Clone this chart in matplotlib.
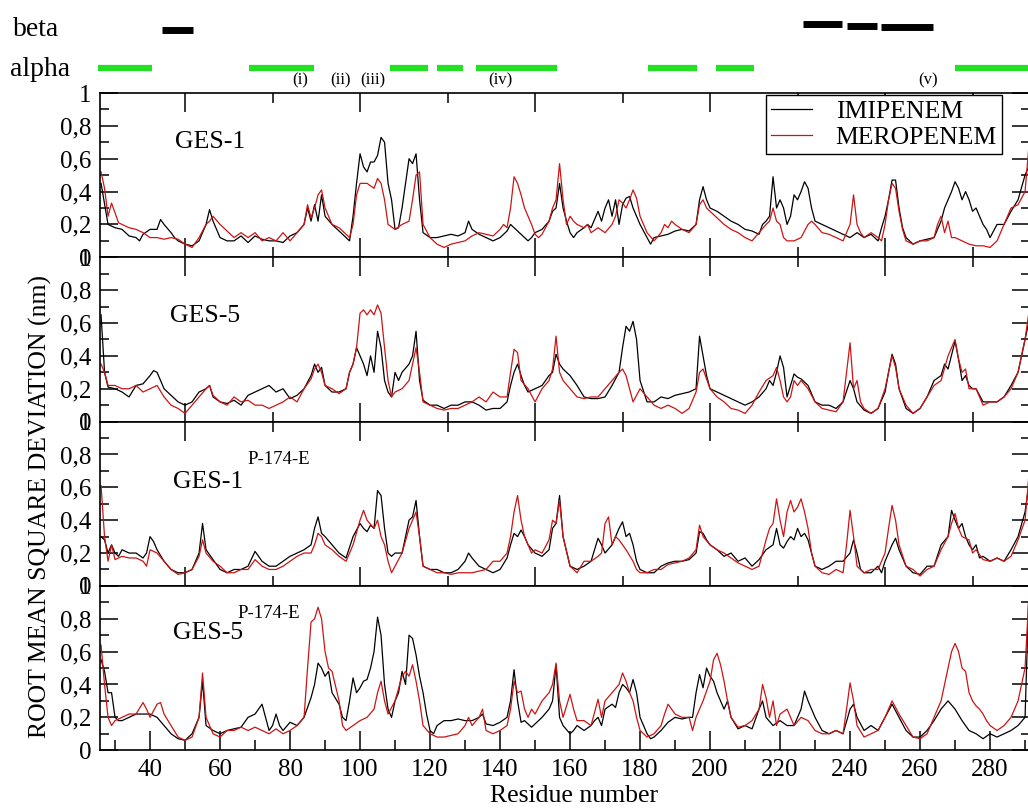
import numpy as np
import matplotlib
matplotlib.use("Agg")
import matplotlib.pyplot as plt
import matplotlib.transforms as mtransforms
from matplotlib.ticker import MultipleLocator, FuncFormatter

plt.rcParams['font.family'] = ['Liberation Serif', 'DejaVu Serif']

# ---- data: (residue, RMSF nm) ----
g1_imi = [(26, .45), (28, .20), (30, .18), (32, .17), (34, .13), (36, .12), (37, .10), (38, .14), (40, .17), (42, .17), (43, .23), (44, .20), (46, .15), (47, .12), (48, .10), (50, .08), (52, .07), (54, .10), (56, .20), (57, .29), (58, .22), (60, .12), (62, .10), (64, .10), (66, .13), (68, .09), (70, .13), (72, .11), (74, .10), (76, .10), (78, .09), (80, .13), (82, .15), (84, .20), (85, .30), (86, .22), (87, .32), (88, .22), (89, .38), (90, .25), (92, .20), (94, .16), (96, .12), (97, .10), (98, .25), (99, .45), (100, .63), (101, .55), (102, .52), (103, .58), (104, .58), (105, .62), (106, .73), (107, .70), (108, .45), (109, .35), (110, .17), (111, .18), (112, .30), (113, .45), (114, .60), (115, .57), (116, .63), (117, .35), (118, .15), (120, .12), (122, .12), (124, .13), (126, .14), (128, .13), (130, .15), (131, .22), (132, .17), (134, .14), (136, .12), (138, .10), (140, .12), (142, .16), (143, .20), (144, .18), (146, .14), (148, .10), (149, .12), (150, .15), (152, .17), (154, .22), (155, .28), (156, .30), (157, .45), (158, .30), (159, .22), (160, .15), (161, .12), (162, .15), (164, .18), (165, .20), (166, .18), (168, .28), (169, .22), (170, .30), (171, .35), (172, .25), (173, .35), (174, .20), (175, .32), (176, .36), (177, .37), (178, .30), (179, .25), (180, .20), (182, .12), (183, .08), (184, .12), (186, .13), (188, .14), (190, .16), (192, .17), (194, .16), (196, .20), (197, .35), (198, .43), (199, .35), (200, .30), (202, .28), (204, .25), (206, .22), (208, .20), (210, .17), (212, .16), (214, .14), (215, .20), (216, .22), (217, .25), (218, .49), (219, .30), (220, .35), (221, .30), (222, .20), (223, .25), (224, .38), (225, .35), (226, .40), (227, .46), (228, .42), (229, .30), (230, .22), (232, .20), (234, .18), (236, .16), (238, .14), (240, .12), (242, .15), (244, .12), (246, .14), (248, .10), (249, .18), (250, .25), (251, .35), (252, .47), (253, .47), (254, .30), (255, .18), (256, .12), (258, .08), (260, .10), (262, .11), (264, .12), (266, .22), (267, .30), (268, .35), (269, .40), (270, .46), (271, .42), (272, .35), (273, .40), (274, .35), (275, .28), (276, .30), (277, .25), (278, .20), (279, .17), (280, .12), (282, .20), (284, .20), (286, .28), (288, .35), (290, .50), (291, .55)]
g1_mer = [(26, .52), (27, .42), (28, .25), (29, .33), (30, .27), (31, .21), (32, .20), (34, .18), (36, .17), (38, .15), (40, .12), (42, .12), (44, .11), (46, .12), (48, .11), (50, .08), (52, .06), (54, .12), (56, .20), (57, .22), (58, .25), (60, .20), (62, .16), (64, .12), (66, .15), (68, .12), (70, .15), (72, .10), (74, .12), (76, .10), (78, .15), (80, .10), (82, .15), (84, .20), (85, .32), (86, .24), (87, .30), (88, .38), (89, .41), (90, .30), (92, .20), (94, .18), (96, .14), (97, .12), (98, .20), (99, .38), (100, .45), (102, .45), (104, .42), (105, .48), (106, .45), (107, .35), (108, .20), (110, .17), (112, .20), (114, .22), (115, .35), (116, .50), (117, .52), (118, .20), (120, .12), (122, .08), (124, .06), (126, .08), (128, .09), (130, .10), (132, .13), (134, .15), (136, .14), (138, .13), (140, .17), (141, .20), (142, .18), (143, .30), (144, .49), (145, .45), (146, .38), (147, .30), (148, .25), (149, .20), (150, .14), (151, .12), (152, .14), (154, .22), (155, .30), (156, .35), (157, .57), (158, .35), (159, .20), (160, .25), (161, .22), (162, .20), (164, .18), (165, .20), (166, .15), (168, .18), (170, .15), (172, .20), (173, .25), (174, .35), (175, .33), (176, .30), (177, .35), (178, .41), (179, .36), (180, .25), (181, .20), (182, .15), (184, .10), (186, .15), (187, .20), (188, .18), (189, .22), (190, .20), (192, .17), (194, .15), (196, .20), (197, .32), (198, .35), (199, .30), (200, .28), (202, .24), (204, .20), (206, .17), (208, .15), (210, .12), (212, .10), (214, .15), (216, .20), (217, .22), (218, .30), (219, .22), (220, .20), (221, .12), (222, .10), (224, .10), (226, .12), (228, .20), (229, .22), (230, .20), (232, .15), (234, .14), (236, .12), (238, .10), (240, .20), (241, .38), (242, .20), (243, .15), (244, .12), (246, .15), (248, .12), (249, .10), (250, .20), (251, .35), (252, .45), (253, .42), (254, .28), (255, .17), (256, .10), (258, .08), (260, .10), (262, .10), (264, .12), (265, .20), (266, .25), (267, .15), (268, .22), (269, .12), (270, .12), (272, .10), (274, .08), (276, .07), (278, .07), (280, .06), (282, .10), (284, .20), (286, .30), (288, .32), (290, .40), (291, .65)]

g5_imi = [(26, .65), (27, .30), (28, .21), (30, .20), (32, .18), (34, .15), (36, .22), (38, .23), (40, .28), (41, .31), (42, .30), (43, .25), (44, .20), (46, .16), (48, .12), (50, .10), (52, .12), (54, .18), (56, .20), (57, .22), (58, .15), (60, .12), (62, .11), (64, .13), (66, .10), (68, .16), (70, .18), (72, .20), (74, .22), (76, .18), (78, .20), (80, .14), (82, .16), (84, .20), (86, .28), (87, .35), (88, .30), (89, .33), (90, .22), (92, .18), (94, .18), (96, .20), (97, .30), (98, .35), (99, .45), (100, .40), (101, .35), (102, .28), (103, .40), (104, .30), (105, .55), (106, .45), (107, .25), (108, .18), (109, .15), (110, .30), (111, .25), (112, .30), (114, .35), (115, .40), (116, .55), (117, .25), (118, .13), (120, .10), (122, .10), (124, .08), (126, .10), (128, .10), (130, .12), (132, .12), (134, .10), (136, .07), (138, .08), (140, .08), (142, .12), (143, .22), (144, .30), (145, .35), (146, .28), (147, .22), (148, .18), (150, .20), (152, .22), (154, .28), (155, .30), (156, .41), (157, .35), (158, .32), (160, .28), (162, .22), (164, .15), (166, .14), (168, .14), (170, .15), (172, .22), (174, .30), (175, .45), (176, .58), (177, .55), (178, .61), (179, .50), (180, .25), (182, .12), (184, .12), (186, .15), (188, .14), (190, .16), (192, .17), (194, .18), (196, .20), (197, .52), (198, .40), (199, .28), (200, .20), (202, .18), (204, .16), (206, .14), (208, .12), (210, .10), (212, .12), (214, .15), (216, .20), (217, .25), (218, .22), (219, .30), (220, .40), (221, .33), (222, .15), (224, .29), (225, .27), (226, .26), (228, .22), (230, .12), (232, .10), (234, .10), (236, .08), (238, .12), (240, .25), (241, .20), (242, .12), (244, .07), (246, .05), (248, .08), (250, .18), (251, .30), (252, .41), (253, .35), (254, .20), (256, .08), (258, .05), (260, .08), (262, .15), (264, .25), (266, .28), (267, .35), (268, .32), (270, .49), (271, .38), (272, .25), (273, .28), (274, .22), (275, .20), (276, .20), (278, .12), (280, .12), (282, .12), (284, .15), (286, .22), (288, .30), (290, .50), (291, .60)]
g5_mer = [(26, .35), (27, .30), (28, .22), (30, .22), (32, .20), (34, .20), (36, .22), (38, .18), (40, .20), (42, .22), (44, .15), (46, .10), (48, .08), (50, .05), (52, .10), (54, .15), (56, .20), (57, .22), (58, .16), (60, .12), (62, .10), (64, .15), (66, .12), (68, .13), (70, .10), (72, .10), (74, .08), (76, .10), (78, .12), (80, .15), (82, .12), (84, .20), (86, .26), (87, .32), (88, .35), (89, .30), (90, .22), (92, .20), (94, .17), (96, .20), (97, .30), (98, .35), (99, .45), (100, .66), (101, .68), (102, .65), (103, .68), (104, .65), (105, .71), (106, .66), (107, .45), (108, .25), (109, .15), (110, .18), (112, .20), (114, .25), (115, .35), (116, .45), (117, .30), (118, .12), (120, .10), (122, .08), (124, .07), (126, .08), (128, .08), (130, .10), (132, .12), (134, .15), (136, .12), (138, .18), (140, .15), (142, .15), (143, .30), (144, .44), (145, .42), (146, .25), (148, .20), (150, .12), (152, .20), (154, .25), (155, .32), (156, .52), (157, .30), (158, .25), (160, .20), (162, .15), (164, .14), (166, .15), (168, .15), (170, .20), (172, .25), (174, .30), (175, .32), (176, .28), (178, .12), (180, .20), (182, .15), (184, .10), (186, .08), (188, .10), (190, .08), (192, .05), (194, .08), (196, .18), (197, .30), (198, .32), (200, .20), (202, .15), (204, .12), (206, .08), (208, .07), (210, .05), (212, .10), (214, .18), (216, .25), (218, .28), (219, .33), (220, .25), (221, .15), (222, .12), (223, .15), (224, .25), (225, .22), (226, .25), (228, .20), (230, .12), (232, .08), (234, .07), (236, .06), (238, .12), (239, .30), (240, .48), (241, .20), (242, .25), (243, .12), (244, .08), (246, .05), (248, .08), (250, .20), (251, .30), (252, .40), (253, .33), (254, .20), (256, .10), (258, .05), (260, .08), (262, .15), (264, .22), (266, .25), (268, .40), (270, .50), (271, .38), (272, .30), (273, .32), (274, .20), (276, .20), (278, .10), (280, .12), (282, .12), (284, .15), (286, .20), (288, .30), (290, .50), (291, .65)]

p1_imi = [(26, .30), (27, .28), (28, .20), (29, .25), (30, .20), (31, .18), (32, .22), (34, .20), (36, .20), (38, .17), (39, .20), (40, .30), (41, .27), (42, .22), (44, .15), (46, .10), (48, .08), (50, .08), (52, .10), (54, .20), (55, .38), (56, .22), (58, .16), (60, .10), (62, .08), (64, .10), (66, .10), (68, .12), (70, .21), (72, .15), (74, .12), (76, .12), (78, .15), (80, .18), (82, .20), (84, .22), (86, .25), (87, .35), (88, .42), (89, .32), (90, .30), (92, .25), (94, .20), (96, .17), (98, .30), (100, .38), (101, .35), (102, .33), (103, .37), (104, .35), (105, .58), (106, .55), (107, .35), (108, .20), (109, .18), (110, .20), (112, .20), (113, .30), (114, .40), (115, .42), (116, .52), (117, .30), (118, .12), (120, .10), (122, .10), (124, .08), (126, .08), (128, .10), (130, .15), (131, .20), (132, .17), (134, .12), (136, .10), (138, .08), (140, .10), (142, .17), (143, .25), (144, .32), (145, .30), (146, .34), (147, .30), (148, .25), (150, .20), (152, .18), (154, .22), (155, .35), (156, .38), (157, .55), (158, .30), (160, .12), (162, .10), (164, .12), (166, .15), (168, .29), (169, .25), (170, .20), (172, .25), (173, .30), (174, .35), (175, .39), (176, .30), (177, .32), (178, .25), (179, .15), (180, .10), (182, .08), (184, .08), (186, .12), (188, .14), (190, .15), (192, .15), (194, .16), (196, .20), (197, .33), (198, .32), (199, .28), (200, .25), (202, .22), (204, .18), (206, .20), (208, .15), (210, .17), (212, .12), (214, .16), (216, .22), (218, .25), (219, .35), (220, .25), (221, .23), (222, .27), (223, .30), (224, .28), (225, .35), (226, .30), (227, .32), (228, .28), (229, .20), (230, .12), (232, .10), (234, .12), (236, .15), (238, .15), (240, .20), (241, .28), (242, .20), (243, .10), (244, .08), (246, .08), (248, .12), (249, .08), (250, .15), (252, .25), (253, .29), (254, .22), (256, .12), (258, .08), (260, .07), (262, .12), (264, .12), (266, .25), (268, .30), (269, .46), (270, .40), (271, .35), (272, .38), (273, .30), (274, .25), (275, .22), (276, .25), (277, .17), (278, .18), (280, .15), (282, .17), (284, .15), (286, .22), (288, .30), (290, .45), (291, .60)]
p1_mer = [(26, .61), (27, .30), (28, .15), (29, .25), (30, .16), (32, .18), (34, .17), (36, .17), (38, .15), (39, .12), (40, .22), (42, .20), (44, .15), (46, .10), (48, .07), (50, .08), (52, .10), (54, .18), (55, .28), (56, .20), (58, .15), (60, .12), (62, .08), (64, .08), (66, .10), (68, .10), (70, .16), (72, .12), (74, .10), (76, .10), (78, .12), (80, .15), (82, .18), (84, .20), (86, .20), (87, .25), (88, .32), (89, .30), (90, .25), (92, .22), (94, .18), (96, .15), (98, .25), (100, .40), (101, .46), (102, .40), (104, .35), (105, .40), (106, .30), (107, .25), (108, .15), (109, .08), (110, .12), (112, .20), (114, .35), (115, .40), (116, .45), (117, .30), (118, .12), (120, .10), (122, .08), (124, .08), (126, .07), (128, .08), (130, .08), (132, .08), (134, .09), (136, .10), (138, .15), (140, .15), (142, .20), (143, .30), (144, .45), (145, .55), (146, .40), (147, .30), (148, .25), (149, .20), (150, .22), (152, .20), (154, .28), (155, .40), (156, .38), (157, .52), (158, .30), (160, .12), (162, .08), (164, .15), (166, .15), (168, .18), (169, .20), (170, .38), (171, .42), (172, .25), (173, .30), (174, .28), (175, .25), (176, .22), (178, .15), (179, .10), (180, .08), (182, .08), (184, .10), (186, .10), (188, .13), (190, .14), (192, .15), (194, .17), (196, .22), (197, .37), (198, .30), (200, .25), (202, .22), (204, .20), (206, .17), (208, .14), (210, .12), (212, .10), (214, .12), (216, .28), (217, .35), (218, .38), (219, .53), (220, .40), (221, .30), (222, .45), (223, .52), (224, .45), (225, .48), (226, .53), (227, .45), (228, .35), (229, .20), (230, .12), (232, .08), (234, .07), (236, .10), (238, .08), (239, .25), (240, .46), (241, .30), (242, .12), (243, .10), (244, .08), (246, .10), (248, .10), (250, .20), (251, .35), (252, .49), (253, .40), (254, .25), (256, .12), (258, .10), (260, .06), (262, .10), (264, .12), (266, .22), (268, .30), (269, .38), (270, .44), (271, .35), (272, .30), (274, .28), (275, .20), (276, .22), (278, .16), (280, .15), (282, .17), (284, .15), (286, .18), (288, .28), (290, .40), (291, .65)]

p5_imi = [(26, .55), (27, .48), (28, .35), (29, .35), (30, .20), (31, .18), (32, .18), (34, .20), (36, .22), (38, .22), (40, .22), (42, .20), (44, .15), (46, .10), (48, .07), (50, .06), (52, .10), (54, .20), (55, .42), (56, .15), (58, .12), (60, .10), (62, .12), (64, .13), (66, .14), (68, .20), (70, .22), (71, .25), (72, .28), (73, .20), (74, .12), (75, .15), (76, .22), (77, .15), (78, .12), (80, .17), (82, .15), (84, .20), (86, .32), (87, .40), (88, .53), (89, .50), (90, .45), (91, .48), (92, .35), (94, .28), (95, .20), (96, .18), (97, .30), (98, .44), (99, .35), (100, .38), (101, .42), (102, .43), (103, .50), (104, .60), (105, .81), (106, .70), (107, .40), (108, .25), (109, .20), (110, .30), (111, .35), (112, .48), (113, .40), (114, .70), (115, .68), (116, .58), (117, .45), (118, .35), (119, .22), (120, .12), (121, .10), (122, .15), (124, .18), (126, .18), (128, .19), (130, .18), (132, .18), (134, .20), (135, .22), (136, .16), (138, .15), (140, .17), (142, .20), (143, .30), (144, .49), (145, .30), (146, .17), (147, .18), (148, .16), (149, .14), (150, .16), (152, .20), (154, .25), (155, .30), (156, .52), (157, .20), (158, .15), (160, .10), (161, .12), (162, .15), (164, .12), (166, .15), (167, .18), (168, .20), (169, .15), (170, .25), (172, .28), (173, .26), (174, .35), (175, .40), (176, .38), (177, .35), (178, .43), (179, .35), (180, .20), (182, .10), (183, .07), (184, .08), (186, .12), (188, .17), (190, .20), (192, .19), (194, .20), (195, .20), (196, .35), (197, .46), (198, .38), (199, .50), (200, .45), (201, .42), (202, .35), (204, .25), (205, .30), (206, .20), (208, .13), (210, .15), (212, .13), (214, .25), (215, .30), (216, .20), (218, .15), (220, .18), (222, .15), (224, .15), (226, .25), (227, .36), (228, .30), (230, .20), (232, .12), (234, .10), (236, .12), (238, .10), (240, .25), (241, .28), (242, .20), (244, .12), (246, .15), (248, .12), (250, .20), (252, .28), (254, .20), (256, .12), (258, .08), (260, .08), (262, .12), (264, .18), (266, .25), (268, .30), (270, .25), (272, .18), (274, .12), (276, .10), (278, .07), (280, .10), (282, .08), (284, .10), (286, .12), (288, .15), (290, .20), (291, .90)]
p5_mer = [(26, .64), (27, .40), (28, .20), (29, .15), (30, .18), (32, .20), (34, .22), (36, .22), (38, .29), (39, .25), (40, .20), (42, .28), (43, .29), (44, .22), (46, .15), (48, .08), (50, .06), (52, .08), (54, .20), (55, .47), (56, .20), (58, .10), (60, .08), (62, .12), (64, .12), (66, .14), (68, .12), (70, .14), (72, .12), (74, .10), (76, .13), (78, .10), (80, .12), (82, .15), (84, .20), (85, .50), (86, .78), (87, .80), (88, .87), (89, .80), (90, .60), (91, .50), (92, .48), (94, .30), (95, .15), (96, .12), (98, .15), (100, .18), (102, .20), (104, .25), (105, .35), (106, .42), (107, .30), (108, .22), (110, .30), (112, .45), (113, .48), (114, .45), (115, .52), (116, .42), (117, .30), (118, .15), (120, .10), (122, .08), (124, .08), (126, .09), (128, .10), (130, .15), (131, .20), (132, .15), (134, .20), (135, .25), (136, .12), (138, .10), (140, .12), (142, .15), (143, .25), (144, .42), (145, .35), (146, .36), (147, .25), (148, .20), (149, .25), (150, .22), (152, .30), (154, .35), (155, .40), (156, .53), (157, .30), (158, .20), (160, .34), (161, .25), (162, .18), (164, .18), (166, .15), (168, .31), (169, .20), (170, .30), (172, .35), (174, .40), (175, .47), (176, .42), (177, .35), (178, .30), (179, .20), (180, .12), (182, .08), (184, .10), (186, .15), (187, .22), (188, .28), (190, .22), (192, .20), (194, .20), (195, .12), (196, .20), (198, .30), (200, .42), (201, .55), (202, .59), (203, .52), (204, .42), (205, .30), (206, .20), (208, .14), (210, .15), (212, .18), (214, .25), (215, .40), (216, .32), (217, .20), (218, .30), (219, .15), (220, .22), (222, .25), (223, .20), (224, .15), (226, .20), (228, .18), (230, .12), (232, .10), (234, .10), (236, .12), (238, .10), (239, .25), (240, .41), (241, .30), (242, .15), (244, .08), (246, .10), (248, .12), (250, .20), (252, .30), (254, .22), (256, .15), (258, .08), (260, .07), (262, .10), (264, .20), (266, .30), (267, .40), (268, .50), (269, .60), (270, .65), (271, .60), (272, .50), (273, .48), (274, .35), (275, .30), (276, .27), (277, .25), (278, .22), (279, .18), (280, .15), (282, .12), (284, .15), (286, .20), (288, .30), (290, .50), (291, .90)]

panel_names = ['GES-1', 'GES-5', 'GES-1', 'GES-5']
panel_sup = ['', '', 'P-174-E', 'P-174-E']
series_names = ['IMIPENEM', 'MEROPENEM']

# secondary structure (residue ranges)
beta_ranges = [(43.4, 52.3), (226.6, 237.7), (239.1, 247.7), (248.8, 263.7)]
alpha_ranges = [(25.1, 40.6), (68.3, 86.8), (108.6, 119.4), (122.0, 129.4),
                (133.1, 156.3), (182.3, 196.3), (201.7, 212.6), (270.0, 296.0)]
region_labels = ['(i)', '(ii)', '(iii)', '(iv)', '(v)']
region_res = [82.8, 94.3, 103.7, 140.0, 262.3]

# ---- layout (pixels) ----
W, H = 1028, 809


def fx(px):
    return px / W


def fy(py):
    return 1 - py / H


x0, x1 = 25.7, 291.5
px_per_res = 3.5
ax_left = 100
ax_w = (x1 - x0) * px_per_res
tops = [93, 257.3, 421.6, 585.9]
ph = 164.3

fig = plt.figure(figsize=(W / 100, H / 100), dpi=100)

fmt = FuncFormatter(lambda v, p: '0' if abs(v) < 1e-6 else
                    ('1' if abs(v - 1) < 1e-6 else f'{v:.1f}'.replace('.', ',')))

name_pos = [(175, 142), (170, 316), (173, 482), (173, 633)]
sup_pos = [None, None, (247, 460), (237, 613)]

data = [(g1_imi, g1_mer), (g5_imi, g5_mer), (p1_imi, p1_mer), (p5_imi, p5_mer)]
axes = []
for i, top in enumerate(tops):
    ax = fig.add_axes([fx(ax_left), fy(top + ph), ax_w / W, ph / H])
    imi, mer = data[i]
    xi, yi = np.array(imi).T
    xm, ym = np.array(mer).T
    l1, = ax.plot(xi, yi, color='black', lw=0.9, label=series_names[0])
    l2, = ax.plot(xm, ym, color='#cc1414', lw=0.9, label=series_names[1])
    ax.set_xlim(x0, x1)
    ax.set_ylim(0, 1)
    for s in ax.spines.values():
        s.set_linewidth(1.2)

    ax.yaxis.set_major_locator(MultipleLocator(0.2))
    ax.yaxis.set_minor_locator(MultipleLocator(0.1))
    ax.yaxis.set_major_formatter(fmt)
    ax.tick_params(axis='y', which='both', direction='in', left=True, right=True,
                   labelsize=18, pad=6, width=1.1)
    ax.tick_params(axis='y', which='major', length=13)
    ax.tick_params(axis='y', which='minor', length=6.5)

    if i < 3:
        ax.xaxis.set_major_locator(MultipleLocator(50))
        ax.xaxis.set_minor_locator(MultipleLocator(25))
        ax.tick_params(axis='x', which='both', direction='in', top=True, bottom=True,
                       labelbottom=False, width=1.1)
        ax.tick_params(axis='x', which='major', length=14)
        ax.tick_params(axis='x', which='minor', length=7)
    else:
        ax.xaxis.set_major_locator(MultipleLocator(20))
        ax.xaxis.set_minor_locator(MultipleLocator(10))
        ax.tick_params(axis='x', which='both', direction='in', top=False, bottom=True,
                       labelsize=18, pad=6, width=1.1)
        ax.tick_params(axis='x', which='major', length=14)
        ax.tick_params(axis='x', which='minor', length=7)

    fig.text(fx(name_pos[i][0]), fy(name_pos[i][1]), panel_names[i],
             fontsize=18.5, ha='left', va='center')
    if sup_pos[i]:
        fig.text(fx(sup_pos[i][0]), fy(sup_pos[i][1]), panel_sup[i],
                 fontsize=13.5, ha='left', va='center')
    axes.append(ax)
    if i == 0:
        handles = [l1, l2]

leg = axes[0].legend(handles=handles, loc='upper right',
                     bbox_to_anchor=(fx(1002), fy(95)), bbox_transform=fig.transFigure,
                     fontsize=18.5, frameon=True, fancybox=False, framealpha=1,
                     edgecolor='black', borderaxespad=0, borderpad=0.2,
                     labelspacing=0.1, handlelength=1.6, handletextpad=0.9)
leg.get_frame().set_linewidth(1.0)

# secondary structure bars above the top panel
trans = mtransforms.blended_transform_factory(axes[0].transData, fig.transFigure)
beta_y = [30, 24, 25.5, 27]
for (a, b), yp in zip(beta_ranges, beta_y):
    axes[0].plot([a, b], [fy(yp), fy(yp)], transform=trans, clip_on=False,
                 color='black', lw=5, solid_capstyle='butt')
for a, b in alpha_ranges:
    axes[0].plot([a, b], [fy(67.5), fy(67.5)], transform=trans, clip_on=False,
                 color='#22e022', lw=4.5, solid_capstyle='butt')
for lab, r in zip(region_labels, region_res):
    axes[0].text(r, fy(80), lab, transform=trans, fontsize=12,
                 ha='center', va='center')

fig.text(fx(13), fy(29), 'beta', fontsize=20, ha='left', va='center')
fig.text(fx(10), fy(69), 'alpha', fontsize=20, ha='left', va='center')

fig.text(fx(40), fy(506), 'ROOT MEAN SQUARE DEVIATION (nm)', rotation=90,
         fontsize=18.5, ha='center', va='center')
fig.text(fx(574), fy(796), 'Residue number', fontsize=18.5, ha='center', va='center')

fig.savefig('out.png', dpi=100)
